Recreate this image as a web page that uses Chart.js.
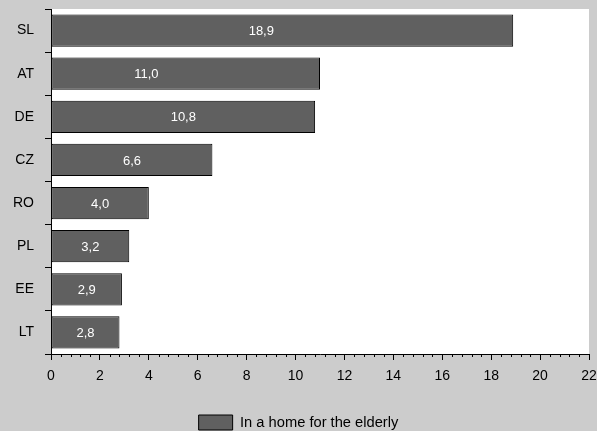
<!DOCTYPE html>
<html>
<head>
<meta charset="utf-8">
<script src="https://cdn.jsdelivr.net/npm/chart.js@4"></script>
<style>
  html, body { margin: 0; padding: 0; background: #cccccc; }
  #wrap { width: 597px; height: 431px; }
</style>
</head>
<body>
<div id="wrap"><canvas id="chart" width="597" height="431"></canvas></div>
<script>
// Dados do gráfico
const paises = ["SL", "AT", "DE", "CZ", "RO", "PL", "EE", "LT"];
const valores = [18.9, 11.0, 10.8, 6.6, 4.0, 3.2, 2.9, 2.8];
const nomeSerie = "In a home for the elderly";
// onde o rótulo fica no original (em unidades do eixo); null = centro da barra
const posRotulo = [8.6, 3.9, null, null, null, null, null, null];

const fonte = "'Liberation Sans', Arial, sans-serif";
const ctx = document.getElementById("chart");

// fundo cinza + área do gráfico branca
const fundo = {
  id: "fundo",
  beforeDraw: (chart) => {
    const { ctx, chartArea: a } = chart;
    ctx.save();
    ctx.fillStyle = "#cccccc";
    ctx.fillRect(0, 0, chart.width, chart.height);
    ctx.fillStyle = "#ffffff";
    ctx.fillRect(a.left, a.top, a.right - a.left, a.bottom - a.top);
    ctx.restore();
  }
};

// marcas menores no eixo x (a cada 0,4)
const marcasMenores = {
  id: "marcasMenores",
  afterDraw: (chart) => {
    const x = chart.scales.x;
    const { ctx } = chart;
    ctx.save();
    ctx.strokeStyle = "#000";
    ctx.lineWidth = 1;
    for (let i = 0; i <= 55; i++) {
      if (i % 5 === 0) continue;
      const px = Math.round(x.getPixelForValue(i * 0.4)) + 0.5;
      ctx.beginPath();
      ctx.moveTo(px, x.top);
      ctx.lineTo(px, x.top + 3);
      ctx.stroke();
    }
    ctx.restore();
  }
};

// rótulos de valor dentro das barras
const rotulos = {
  id: "rotulos",
  afterDatasetsDraw: (chart) => {
    const { ctx } = chart;
    const meta = chart.getDatasetMeta(0);
    const x = chart.scales.x;
    ctx.save();
    ctx.font = `13px ${fonte}`;
    ctx.fillStyle = "#ffffff";
    ctx.textAlign = "center";
    ctx.textBaseline = "middle";
    meta.data.forEach((bar, i) => {
      const cx = posRotulo[i] !== null ? x.getPixelForValue(posRotulo[i]) : (bar.base + bar.x) / 2;
      ctx.fillText(valores[i].toFixed(1).replace(".", ","), cx, bar.y + 1);
    });
    ctx.restore();
  }
};

new Chart(ctx, {
  type: "bar",
  data: {
    labels: paises,
    datasets: [{
      label: nomeSerie,
      data: valores,
      backgroundColor: "#606060",
      borderColor: "#000000",
      borderWidth: 1,
      borderSkipped: false,
      categoryPercentage: 1,
      barPercentage: 0.75
    }]
  },
  options: {
    indexAxis: "y",
    responsive: false,
    animation: false,
    layout: { padding: { top: 9, right: 0, left: 0, bottom: -9 } },
    scales: {
      y: {
        afterFit: (s) => { s.width = 51; s.paddingTop = 0; s.paddingBottom = 0; },
        grid: { display: true, drawOnChartArea: false, offset: true, tickLength: 6, color: "#000" },
        border: { display: true, color: "#000", width: 1 },
        ticks: { color: "#000", padding: 11, font: { family: fonte, size: 14 } }
      },
      x: {
        min: 0,
        max: 22,
        afterFit: (s) => { s.height = 57; s.paddingLeft = 0; s.paddingRight = 8; },
        grid: { display: true, drawOnChartArea: false, tickLength: 6, color: "#000" },
        border: { display: true, color: "#000", width: 1 },
        ticks: { stepSize: 2, color: "#000", padding: 8, font: { family: fonte, size: 14 } }
      }
    },
    plugins: {
      legend: {
        position: "bottom",
        labels: {
          color: "#000",
          boxWidth: 34,
          boxHeight: 15,
          padding: 4,
          font: { family: fonte, size: 14.7 }
        }
      },
      tooltip: { enabled: false }
    }
  },
  plugins: [fundo, marcasMenores, rotulos]
});
</script>
</body>
</html>
